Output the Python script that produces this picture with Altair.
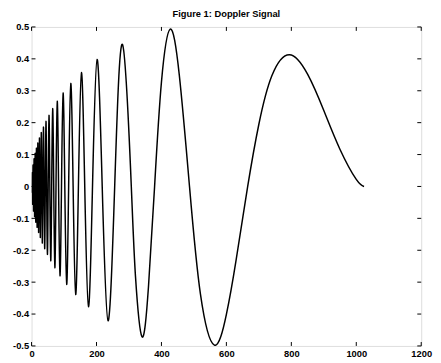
import altair as alt
import pandas as pd

# Doppler signal: points (zero crossings, extrema, a few intermediate points)
sig_x = [1, 1.2, 1.9, 2.6, 3.2, 3.9, 4.65, 5.4, 6.1, 6.9, 7.7, 8.5, 9.4, 10.2, 11.1, 12.0,
         13.0, 14.0, 15.0, 16.0, 17.1, 18.2, 19.3, 20.5, 21.7, 23.0, 24.3, 25.6, 27.0, 28.4,
         29.9, 31.5, 33.1, 34.8, 36.6, 38.4, 40.3, 42.3, 44.4, 46.5, 48.8, 51.2, 53.7, 56.3,
         59.1, 62.0, 65.0, 68.3, 71.7, 75.3, 79.1, 83.2, 87.5, 92.2, 97.1, 102.4, 108.1,
         114.2, 120.8, 128.0, 135.8, 144.3, 153.6, 163.8, 175.2, 187.7, 201.8, 217.6, 235.5,
         256.0, 280.0, 307.2, 320, 340, 360, 378.9, 400, 427, 455, 486.4, 520, 563, 600, 630,
         665.6, 700, 740, 794, 850, 900, 950, 1000, 1024]
sig_y = [-0.02, 0.0, 0.043, 0.0, -0.056, 0.0, 0.067, 0.0, -0.077, 0.0, 0.087, 0.0, -0.095,
         0.0, 0.104, 0.0, -0.112, 0.0, 0.120, 0.0, -0.128, 0.0, 0.136, 0.0, -0.144, 0.0,
         0.152, 0.0, -0.160, 0.0, 0.169, 0.0, -0.177, 0.0, 0.186, 0.0, -0.195, 0.0, 0.204,
         0.0, -0.213, 0.0, 0.223, 0.0, -0.233, 0.0, 0.244, 0.0, -0.255, 0.0, 0.267, 0.0,
         -0.280, 0.0, 0.293, 0.0, -0.307, 0.0, 0.323, 0.0, -0.339, 0.0, 0.357, 0.0, -0.377,
         0.0, 0.398, 0.0, -0.421, 0.0, 0.445, 0.0, -0.281, -0.471, -0.315, 0.0, 0.327, 0.493,
         0.349, 0.0, -0.337, -0.4975, -0.401, -0.230, 0.0, 0.195, 0.347, 0.413, 0.352, 0.238,
         0.116, 0.022, 0.0]

x_ticks = [0, 200, 400, 600, 800, 1000, 1200]
y_ticks = [-0.5, -0.4, -0.3, -0.2, -0.1, 0, 0.1, 0.2, 0.3, 0.4, 0.5]

W, H = 397, 325
FONT = "Liberation Sans"

sig = pd.DataFrame({"x": sig_x, "y": sig_y, "i": list(range(len(sig_x)))})
xt = pd.DataFrame({"x": x_ticks})
yt = pd.DataFrame({"y": y_ticks})

xs = alt.Scale(domain=[0, 1200], nice=False, zero=False)
ys = alt.Scale(domain=[-0.5, 0.5], nice=False, zero=False)

ylab = ("datum.value == 0 ? '0' : (datum.value < 0 ? '-' + format(-datum.value, '.1f') "
        ": format(datum.value, '.1f'))")

xaxis = alt.Axis(values=x_ticks, ticks=False, domain=False, grid=False,
                 title=None, labelPadding=3, labelFontSize=9.5,
                 labelFontWeight="bold", labelFont=FONT,
                 labelColor="black", labelFlush=False, format="d")
yaxis = alt.Axis(values=y_ticks, ticks=False, domain=False, grid=False,
                 title=None, labelPadding=3, labelFontSize=9.5,
                 labelFontWeight="bold", labelFont=FONT,
                 labelColor="black", labelExpr=ylab)

line = alt.Chart(sig).mark_line(color="black", strokeWidth=1.5, interpolate="natural", clip=True).encode(
    x=alt.X("x:Q", scale=xs, axis=xaxis),
    y=alt.Y("y:Q", scale=ys, axis=yaxis),
    order="i:Q",
)

tick_len = 4
bx = alt.Chart(xt).mark_rule(color="black", strokeWidth=1).encode(
    x=alt.X("x:Q", scale=xs, axis=xaxis), y=alt.value(H), y2=alt.value(H - tick_len))
tx = alt.Chart(xt).mark_rule(color="black", strokeWidth=1).encode(
    x=alt.X("x:Q", scale=xs, axis=xaxis), y=alt.value(0), y2=alt.value(tick_len))
ly = alt.Chart(yt).mark_rule(color="black", strokeWidth=1).encode(
    y=alt.Y("y:Q", scale=ys, axis=yaxis), x=alt.value(0), x2=alt.value(tick_len))
ry = alt.Chart(yt).mark_rule(color="black", strokeWidth=1).encode(
    y=alt.Y("y:Q", scale=ys, axis=yaxis), x=alt.value(W), x2=alt.value(W - tick_len))

chart = alt.layer(line, bx, tx, ly, ry).properties(
    width=W, height=H,
    title=alt.TitleParams("Figure 1: Doppler Signal", fontSize=9.5, fontWeight="bold", font=FONT,
                          color="black", anchor="middle", offset=4),
    autosize=alt.AutoSizeParams(type="none"),
    padding={"left": 24, "top": 16, "right": 12, "bottom": 11},
).configure_view(stroke="black", strokeWidth=1).configure(background="white")

chart.save("out.html", embed_options={"renderer": "svg", "actions": False})
